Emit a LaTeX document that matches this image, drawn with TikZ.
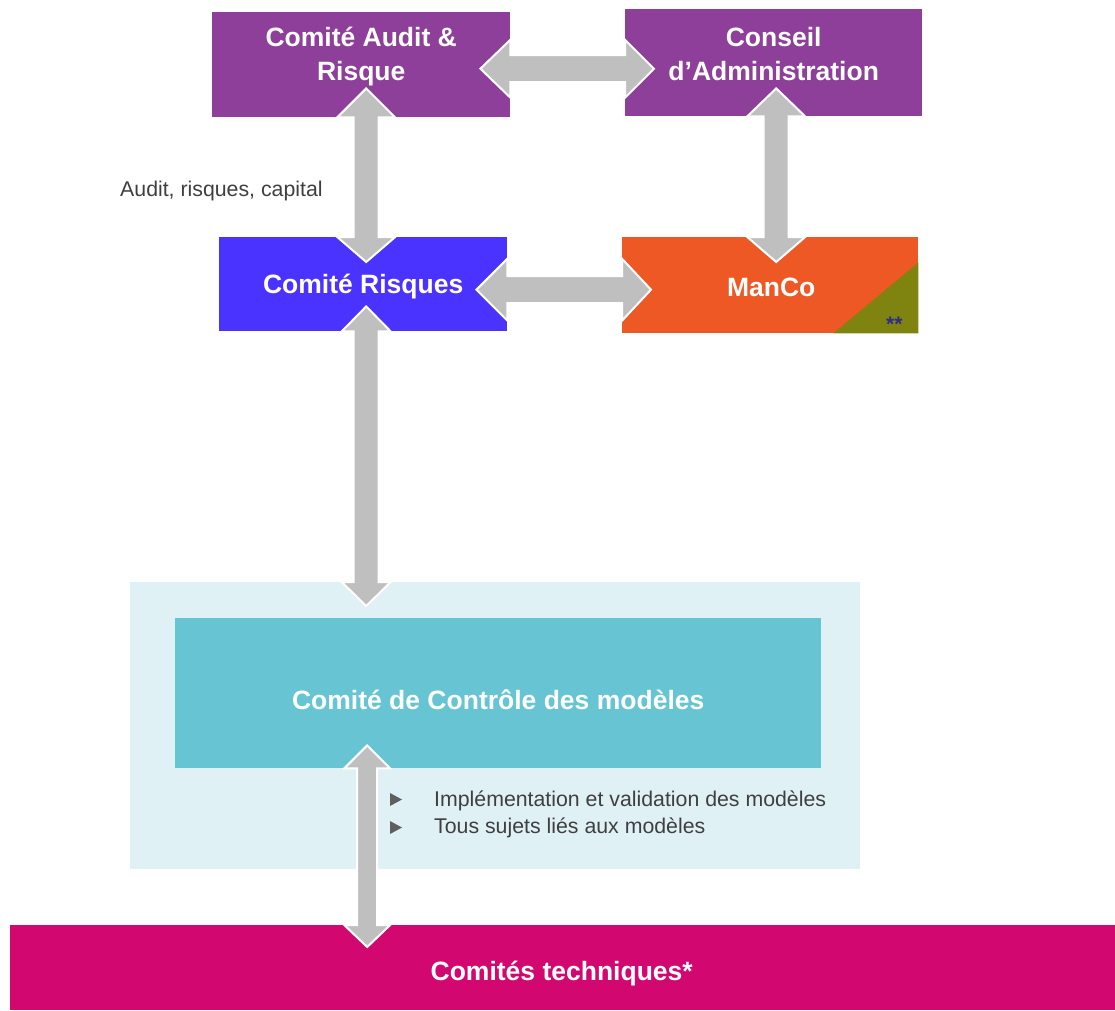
\documentclass[tikz,border=0pt]{standalone}
\usepackage{fontspec}
\setmainfont{Liberation Sans}
\usetikzlibrary{calc}
\definecolor{purp}{HTML}{8E3F99}
\definecolor{blu}{HTML}{4A33FF}
\definecolor{org}{HTML}{EE5824}
\definecolor{oliv}{HTML}{7F8410}
\definecolor{lbg}{HTML}{E0F1F6}
\definecolor{tealbox}{HTML}{67C4D3}
\definecolor{mag}{HTML}{D2076F}
\definecolor{agray}{HTML}{BFBFBF}
\definecolor{txtgray}{HTML}{3F3F3F}
\definecolor{bulgray}{HTML}{5F5F5F}
\definecolor{stars}{HTML}{2E2A8C}
\newcommand\vdarrow[6]{%
  \fill[arr] (#1) -- ($(#1)+(#4,#5)$) -- ($(#1)+(#3,#5)$) -- ($(#2)+(#3,-#6)$) -- ($(#2)+(#4,-#6)$) -- (#2)
   -- ($(#2)+(-#4,-#6)$) -- ($(#2)+(-#3,-#6)$) -- ($(#1)+(-#3,#5)$) -- ($(#1)+(-#4,#5)$) -- cycle;}
\newcommand\hdarrow[6]{%
  \fill[arr] (#1) -- ($(#1)+(#5,-#4)$) -- ($(#1)+(#5,-#3)$) -- ($(#2)+(-#6,-#3)$) -- ($(#2)+(-#6,-#4)$) -- (#2)
   -- ($(#2)+(-#6,#4)$) -- ($(#2)+(-#6,#3)$) -- ($(#1)+(#5,#3)$) -- ($(#1)+(#5,#4)$) -- cycle;}
\begin{document}
\begin{tikzpicture}[x=1pt,y=-1pt,
  box/.style={fill=#1, inner sep=0pt, anchor=north west},
  title/.style={text=white, font=\fontsize{26.5}{34}\selectfont\bfseries, align=center, inner sep=0pt},
  small/.style={text=txtgray, font=\fontsize{21.3}{25}\selectfont, inner sep=0pt, anchor=west},
  arr/.style={draw=white, line width=2pt, fill=agray, line join=miter}]
\useasboundingbox (0,0) rectangle (1115,1010);
% boxes
\node[box=lbg, minimum width=730, minimum height=287] (bg) at (130,582) {};
\node[box=tealbox, minimum width=646, minimum height=150] (ccm) at (175,618) {};
\node[box=mag, minimum width=1105, minimum height=85] (tech) at (10,925) {};
\node[box=purp, minimum width=298, minimum height=105] (audit) at (212,12) {};
\node[box=purp, minimum width=297, minimum height=107] (conseil) at (625,9) {};
\node[box=blu, minimum width=288, minimum height=94] (risques) at (219,237) {};
\node[box=org, minimum width=296, minimum height=96] (manco) at (622,237) {};
\fill[oliv] (manco.south east) -- ($(manco.south east)+(0,-71)$) -- ($(manco.south east)+(-85,0)$) -- cycle;
\node[text=stars, font=\fontsize{21}{22}\selectfont\bfseries, inner sep=0pt] (st) at ($(manco.south east)+(-24,-9)$) {**};
% titles
\node[title] (tAudit) at ($(audit.center)+(0,-8)$) {Comité Audit \&\\Risque};
\node[title] (tConseil) at ($(conseil.center)+(0,-9)$) {Conseil\\d’Administration};
\node[title] (tRisques) at ($(risques.center)+(0,2)$) {Comité Risques};
\node[title] (tManco) at ($(manco.center)+(1,2)$) {ManCo};
\node[title] (tCcm) at ($(ccm.center)+(0,7)$) {Comité de Contrôle des modèles};
\node[title] (tTech) at ($(tech.center)+(-1,6)$) {Comités techniques*};
% labels
\node[small] (lab) at (120,191) {Audit, risques, capital};
\fill[bulgray] (390,793) -- (402,799.5) -- (390,806) -- cycle;
\fill[bulgray] (390,821) -- (402,827.5) -- (390,834) -- cycle;
\node[small] (b1) at (434,801) {Implémentation et validation des modèles};
\node[small] (b2) at (434,828) {Tous sujets liés aux modèles};
% arrow tips
\coordinate (h1l) at ($(audit.east)+(-30,4)$);
\coordinate (h1r) at ($(conseil.west)+(29,6)$);
\coordinate (v1t) at ($(audit.south)+(5,-29)$);
\coordinate (v1b) at ($(risques.north)+(3,25)$);
\coordinate (v2t) at ($(conseil.south)+(2.5,-28)$);
\coordinate (v2b) at ($(manco.north)+(6,25)$);
\coordinate (h2l) at ($(risques.east)+(-31,5.5)$);
\coordinate (h2r) at ($(manco.west)+(29,4.5)$);
\coordinate (v3t) at ($(risques.south)+(3,-25)$);
\coordinate (v3b) at ($(bg.north)+(-129,24)$);
\coordinate (v4t) at ($(ccm.south)+(-131,-23)$);
\coordinate (v4b) at ($(tech.north)+(-195.5,22)$);
% arrows
\hdarrow{h1l}{h1r}{13.5}{29}{30}{29}
\vdarrow{v1t}{v1b}{12.5}{29}{29}{25}
\vdarrow{v2t}{v2b}{12.5}{29}{28}{25}
\hdarrow{h2l}{h2r}{13.5}{31}{31}{29}
\vdarrow{v3t}{v3b}{12.5}{24.5}{25}{24}
\vdarrow{v4t}{v4b}{10}{23}{23}{22}
\end{tikzpicture}
\end{document}
